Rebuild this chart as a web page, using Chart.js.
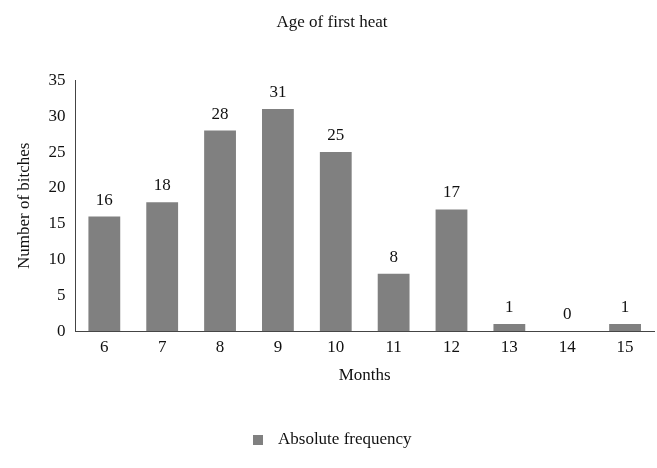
<!DOCTYPE html>
<html>
<head>
<meta charset="utf-8">
<script src="https://cdn.jsdelivr.net/npm/chart.js@4"></script>
<style>
body{margin:0;background:#fff;}
#wrap{width:657px;height:468px;}
</style>
</head>
<body>
<div id="wrap"><canvas id="graph" width="657" height="468"></canvas></div>
<script>
// donnees
const months = ["6","7","8","9","10","11","12","13","14","15"];
const counts = [16,18,28,31,25,8,17,1,0,1];
const yTicks = [0,5,10,15,20,25,30,35];

const barColor = "#808080";
const police = "'Liberation Serif', 'DejaVu Serif', serif";

// etiquettes au-dessus des barres + legende
const etiquettes = {
  id:"etiquettes",
  afterDatasetsDraw(chart){
    const ctx = chart.ctx;
    const meta = chart.getDatasetMeta(0);
    ctx.save();
    ctx.fillStyle = "#111";
    ctx.font = "17px " + police;
    ctx.textAlign = "center";
    ctx.textBaseline = "bottom";
    meta.data.forEach((bar,i)=>{
      ctx.fillText(counts[i], bar.x, bar.y - 8);
    });
    // legende
    ctx.fillStyle = barColor;
    ctx.fillRect(253, 435, 10, 10);
    ctx.fillStyle = "#111";
    ctx.textAlign = "left";
    ctx.textBaseline = "middle";
    ctx.fillText(chart.data.datasets[0].label, 278, 440);
    ctx.restore();
  }
};

new Chart(document.getElementById("graph"),{
  type:"bar",
  data:{
    labels:months,
    datasets:[{
      label:"Absolute frequency",
      data:counts,
      backgroundColor:barColor,
      categoryPercentage:1,
      barPercentage:0.55
    }]
  },
  options:{
    responsive:false,
    animation:false,
    devicePixelRatio:1,
    layout:{padding:{top:12,right:3,bottom:78,left:10}},
    plugins:{
      legend:{display:false},
      tooltip:{enabled:false},
      title:{display:true,text:"Age of first heat",color:"#111",
        font:{family:police,size:17,weight:"normal"},padding:{bottom:48},
        align:"center"}
    },
    scales:{
      x:{
        grid:{display:false,drawTicks:false},
        border:{color:"#444"},
        ticks:{color:"#111",font:{family:police,size:17},padding:6},
        title:{display:true,text:"Months",color:"#111",font:{family:police,size:17},padding:{top:2}}
      },
      y:{
        min:0,max:35,
        afterBuildTicks(axis){axis.ticks = yTicks.map(v=>({value:v}));},
        grid:{display:false,drawTicks:false},
        border:{color:"#444"},
        ticks:{color:"#111",font:{family:police,size:17},padding:10},
        title:{display:true,text:"Number of bitches",color:"#111",font:{family:police,size:17}}
      }
    }
  },
  plugins:[etiquettes]
});
</script>
</body>
</html>
